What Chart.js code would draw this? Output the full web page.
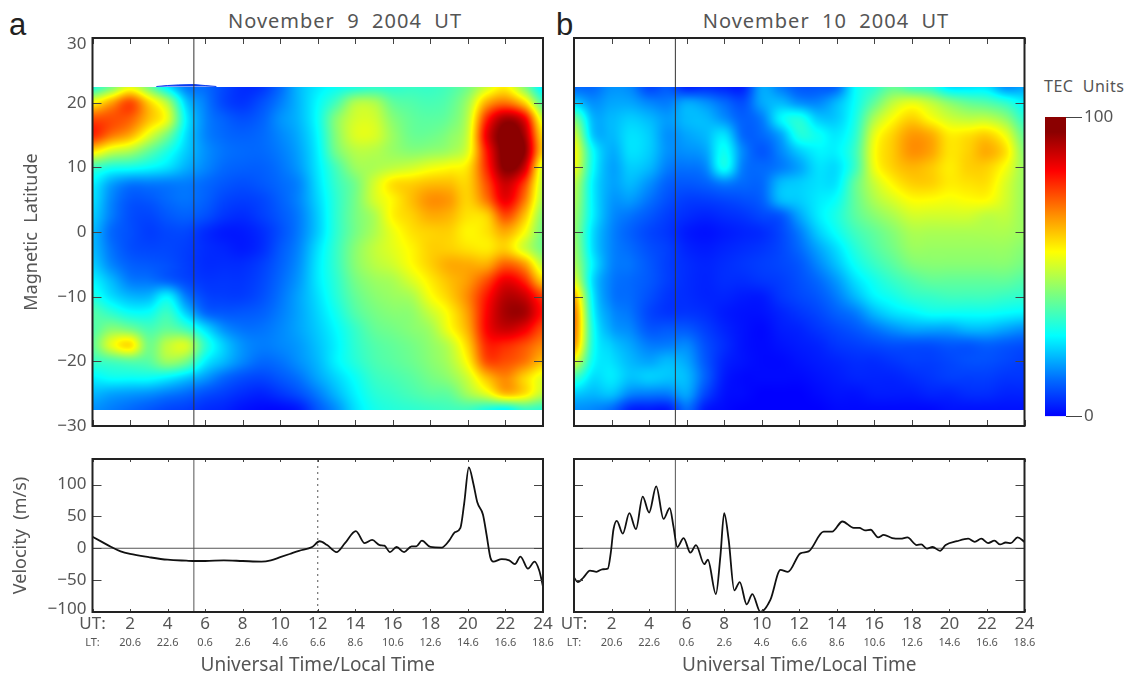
<!DOCTYPE html>
<html>
<head>
<meta charset="utf-8">
<title>TEC and velocity</title>
<script src="https://cdn.jsdelivr.net/npm/chart.js@4"></script>
<style>
  body { margin: 0; background: #fff; width: 1131px; height: 674px; overflow: hidden; font-family: "Noto Sans", sans-serif; }
  canvas { position: absolute; left: 0; top: 0; }
  .lbl { position: absolute; white-space: pre; color: #555; line-height: 1; }
  .title { font-size: 20px; letter-spacing: 1px; transform: translateX(-50%); }
  .tag { font-family: "Liberation Sans", sans-serif; font-size: 31px; color: #222; }
</style>
</head>
<body>
<div class="lbl tag" style="left:9px;top:9px">a</div>
<div class="lbl tag" style="left:556px;top:9px">b</div>
<div class="lbl title" style="left:345px;top:11px">November  9  2004  UT</div>
<div class="lbl title" style="left:826px;top:11px">November  10  2004  UT</div>
<div class="lbl" style="left:1044px;top:78px;font-size:16px;letter-spacing:.5px">TEC  Units</div>
<canvas id="mapA" width="1131" height="674"></canvas>
<canvas id="mapB" width="1131" height="674"></canvas>
<canvas id="velA" width="1131" height="674"></canvas>
<canvas id="velB" width="1131" height="674"></canvas>
<canvas id="scaleBar" width="1131" height="674"></canvas>
<script>
// tick labels
const hourTicks = [0, 2, 4, 6, 8, 10, 12, 14, 16, 18, 20, 22, 24];
const utLabels = ['UT:', '2', '4', '6', '8', '10', '12', '14', '16', '18', '20', '22', '24'];
const ltLabels = ['LT:', '20.6', '22.6', '0.6', '2.6', '4.6', '6.6', '8.6', '10.6', '12.6', '14.6', '16.6', '18.6'];
// the 30 and -100 labels sit a little inside the corners in the original
const latTicks = [-30, -20, -10, 0, 10, 20, 29];
const latLabels = ['\u221230', '\u221220', '\u221210', '0', '10', '20', '30'];
const velTicks = [-96, -50, 0, 50, 100];
const velLabels = ['\u2212100', '\u221250', '0', '50', '100'];
const cutTime = 5.4;
const noonLine = 12;

// grid of the TEC maps, one row per latitude, one column per hour
const gridLats = [22.5, 20, 17.5, 15, 12.5, 10, 7.5, 5, 2.5, 0, -2.5, -5, -7.5, -10, -12.5, -15, -17.5, -20, -22.5, -25, -27.5];
const gridHours = [0, 1, 2, 3, 4, 5, 6, 7, 8, 9, 10, 11, 12, 13, 14, 15, 16, 17, 18, 19, 20, 21, 22, 23, 24];

const tecNov9 = [
  [30, 40, 52, 40, 25, 14, 12, 8, 5, 6, 12, 20, 25, 28, 30, 32, 32, 33, 33, 35, 40, 50, 56, 42, 25],
  [55, 65, 74, 60, 46, 22, 14, 8, 6, 9, 14, 20, 27, 35, 46, 46, 38, 36, 35, 37, 45, 64, 70, 60, 36],
  [74, 74, 72, 62, 52, 26, 15, 11, 9, 11, 16, 20, 28, 42, 50, 50, 42, 38, 37, 39, 48, 78, 92, 84, 50],
  [78, 70, 64, 52, 40, 24, 15, 12, 11, 12, 15, 19, 27, 42, 51, 51, 44, 39, 39, 42, 50, 84, 98, 92, 58],
  [58, 50, 46, 38, 30, 22, 16, 13, 12, 12, 14, 18, 26, 40, 47, 47, 44, 42, 43, 45, 52, 80, 98, 95, 60],
  [34, 30, 29, 27, 24, 19, 15, 12, 11, 11, 13, 17, 25, 35, 44, 46, 48, 50, 53, 55, 58, 78, 96, 88, 50],
  [26, 18, 14, 14, 14, 14, 12, 10, 9, 10, 12, 15, 24, 33, 40, 50, 58, 60, 62, 62, 60, 74, 88, 76, 48],
  [24, 15, 10, 10, 12, 13, 11, 8, 7, 8, 11, 15, 23, 32, 40, 50, 56, 62, 67, 66, 60, 70, 84, 70, 46],
  [22, 14, 9, 8, 10, 11, 9, 6, 5, 7, 10, 14, 22, 32, 40, 46, 56, 60, 64, 63, 58, 60, 74, 62, 42],
  [20, 12, 9, 7, 8, 8, 5, 3, 3, 5, 9, 14, 22, 32, 40, 46, 53, 58, 60, 60, 56, 58, 64, 55, 40],
  [20, 13, 9, 8, 8, 7, 5, 4, 3, 5, 10, 15, 24, 33, 42, 48, 52, 56, 60, 60, 58, 57, 60, 50, 40],
  [22, 15, 11, 10, 9, 7, 5, 5, 5, 7, 11, 16, 25, 33, 42, 47, 50, 55, 60, 64, 64, 64, 72, 66, 48],
  [26, 20, 14, 13, 11, 8, 6, 6, 6, 8, 12, 17, 25, 32, 40, 44, 46, 51, 57, 62, 66, 74, 84, 78, 60],
  [30, 24, 20, 20, 26, 14, 8, 7, 7, 9, 13, 18, 24, 31, 38, 42, 44, 46, 54, 60, 68, 80, 90, 88, 76],
  [36, 32, 28, 28, 33, 22, 12, 10, 10, 11, 14, 18, 23, 29, 36, 40, 42, 43, 49, 56, 66, 82, 92, 92, 80],
  [36, 42, 40, 35, 38, 34, 24, 16, 13, 13, 15, 18, 22, 27, 33, 38, 40, 42, 45, 54, 64, 82, 88, 84, 74],
  [38, 52, 58, 40, 48, 50, 32, 22, 16, 14, 15, 17, 21, 26, 32, 36, 38, 40, 43, 48, 60, 78, 78, 74, 68],
  [33, 35, 37, 37, 44, 40, 26, 20, 15, 12, 13, 16, 20, 26, 31, 35, 37, 39, 42, 46, 56, 74, 74, 70, 62],
  [26, 28, 28, 28, 26, 22, 17, 12, 9, 8, 10, 13, 18, 23, 28, 33, 35, 37, 40, 43, 50, 62, 68, 60, 52],
  [20, 18, 17, 16, 14, 12, 9, 7, 5, 4, 6, 9, 14, 20, 26, 31, 33, 35, 37, 38, 45, 52, 62, 58, 48],
  [16, 14, 12, 10, 8, 7, 5, 4, 2, 1, 1, 3, 10, 16, 24, 29, 31, 32, 33, 34, 34, 30, 27, 33, 32]
];

const tecNov10 = [
  [12, 12, 16, 15, 8, 10, 4, 5, 4, 4, 18, 14, 10, 10, 12, 27, 32, 38, 34, 32, 24, 24, 24, 16, 18],
  [22, 16, 18, 18, 15, 14, 18, 16, 12, 9, 18, 20, 16, 15, 20, 28, 38, 48, 52, 48, 42, 38, 36, 32, 26],
  [40, 20, 20, 22, 20, 17, 20, 20, 16, 11, 14, 26, 30, 22, 22, 30, 46, 55, 60, 55, 50, 48, 48, 43, 32],
  [50, 22, 20, 24, 22, 16, 18, 20, 24, 12, 12, 18, 30, 28, 25, 32, 52, 60, 66, 64, 57, 58, 60, 53, 38],
  [55, 28, 19, 24, 22, 16, 16, 18, 28, 15, 10, 15, 22, 26, 26, 34, 54, 61, 67, 65, 58, 60, 64, 58, 42],
  [54, 28, 18, 22, 20, 14, 13, 15, 28, 14, 12, 14, 18, 24, 24, 34, 53, 60, 63, 61, 57, 60, 60, 54, 44],
  [48, 26, 18, 20, 16, 11, 10, 11, 14, 12, 12, 20, 22, 24, 25, 38, 49, 56, 60, 60, 57, 58, 58, 51, 44],
  [46, 26, 17, 17, 13, 9, 7, 7, 8, 9, 11, 20, 22, 25, 28, 38, 46, 51, 55, 55, 54, 55, 55, 50, 44],
  [44, 26, 16, 13, 10, 7, 5, 4, 5, 6, 8, 10, 18, 25, 30, 37, 42, 46, 50, 50, 50, 50, 48, 48, 44],
  [43, 24, 15, 11, 8, 6, 3, 2, 3, 4, 5, 8, 14, 22, 28, 34, 38, 42, 46, 46, 46, 46, 46, 46, 44],
  [44, 24, 15, 12, 9, 7, 4, 3, 4, 5, 6, 8, 12, 18, 24, 31, 36, 40, 44, 44, 44, 44, 44, 44, 42],
  [46, 26, 15, 13, 10, 7, 5, 4, 5, 6, 7, 8, 10, 15, 21, 28, 33, 37, 41, 42, 42, 42, 42, 42, 40],
  [52, 24, 14, 12, 10, 7, 5, 4, 5, 5, 6, 7, 9, 12, 17, 24, 29, 33, 36, 38, 38, 38, 38, 38, 36],
  [64, 26, 14, 12, 9, 6, 5, 4, 4, 3, 3, 6, 8, 10, 14, 20, 26, 29, 32, 33, 34, 34, 34, 33, 32],
  [70, 28, 16, 13, 8, 6, 6, 5, 3, 2, 2, 4, 6, 8, 11, 14, 20, 24, 26, 28, 28, 28, 28, 27, 26],
  [70, 30, 18, 15, 10, 10, 10, 7, 4, 2, 1, 3, 4, 6, 8, 10, 13, 16, 18, 18, 18, 20, 20, 18, 16],
  [66, 30, 22, 18, 14, 14, 15, 9, 5, 2, 1, 2, 3, 4, 6, 7, 8, 9, 9, 9, 10, 10, 11, 10, 9],
  [52, 28, 24, 20, 18, 20, 18, 10, 4, 2, 1, 1, 2, 3, 4, 5, 5, 6, 7, 7, 8, 9, 9, 8, 7],
  [34, 24, 25, 21, 22, 21, 20, 11, 3, 1, 1, 1, 1, 2, 3, 4, 4, 4, 5, 6, 7, 7, 7, 6, 6],
  [22, 20, 21, 15, 14, 14, 18, 8, 2, 1, 0, 0, 0, 1, 2, 2, 3, 3, 3, 4, 4, 5, 5, 4, 4],
  [16, 15, 12, 4, 3, 3, 12, 3, 1, 0, 0, 0, 0, 0, 1, 1, 1, 1, 1, 1, 2, 2, 2, 2, 2]
];

// small blue lip above the map top on Nov 9
const lipHours = [3.4, 4, 4.6, 5.4, 6, 6.6];
const lipLats = [22.5, 22.65, 22.75, 22.8, 22.65, 22.5];

// vertical drift
const velHoursA = [0, 0.5, 1, 1.5, 2, 3, 4, 5, 5.5, 6, 7, 8, 9, 9.5, 10, 10.5, 11, 11.7, 12.1, 12.5, 13, 13.45, 14.03, 14.5, 14.9, 15.3, 15.55, 15.85, 16.2, 16.6, 17, 17.25, 17.55, 18, 18.6, 19, 19.3, 19.6, 19.8, 20.05, 20.3, 20.5, 20.8, 21, 21.2, 21.35, 21.8, 22.2, 22.5, 22.8, 23.2, 23.55, 23.8, 24];
const velA = [18, 10, 2, -5, -9, -14, -18, -19.5, -20, -20, -19, -20, -21, -19, -14, -9, -4, 2, 11, 5, -6, 8, 27, 8, 13, 5, 4, -6, 2, -6, 3, 3, 12, 2, 1, 12, 25, 32, 70, 127, 100, 72, 53, 20, -15, -21, -17, -19, -25, -13, -32, -21, -35, -60];
const velHoursB = [0, 0.2, 0.5, 0.85, 1.2, 1.5, 1.8, 1.96, 2.1, 2.28, 2.6, 2.95, 3.3, 3.66, 4, 4.38, 4.77, 5.1, 5.3, 5.5, 5.84, 6.2, 6.5, 6.94, 7.13, 7.56, 7.8, 8, 8.24, 8.54, 8.83, 9.2, 9.5, 9.93, 10.46, 11, 11.4, 12.06, 12.5, 13.3, 13.75, 14.3, 14.9, 15.2, 15.5, 15.8, 16.2, 16.5, 16.95, 17.4, 17.76, 18.26, 18.5, 18.8, 19.1, 19.5, 19.8, 20.4, 21, 21.35, 21.7, 22.06, 22.4, 22.7, 23, 23.27, 23.63, 24];
const velB = [-46, -53, -46, -35, -37, -33, -32, -7, 29, 43, 23, 55, 30, 81, 56, 97, 46, 63, 34, 2, 16, -7, 5, -25, -18, -72, -12, 55, 13, -66, -53, -88, -72, -100, -81, -34, -37, -8, -5, 26, 26, 42, 32, 32, 28, 29, 17, 21, 16, 15, 17, 5, 6, -0.5, 2, -4, 5, 11, 15, 10, 15, 8, 12, 6, 9, 8, 17, 10];

// colour table of the bar
const colorStops = [0, 0.12, 0.27, 0.41, 0.55, 0.67, 0.82, 0.95, 1];
const colorsR = [0, 0, 0, 125, 255, 255, 255, 139, 139];
const colorsG = [0, 105, 255, 255, 255, 145, 0, 0, 0];
const colorsB = [255, 255, 255, 125, 0, 0, 0, 0, 0];

const fontName = '"Noto Sans", sans-serif';
const textColor = '#555';
const frameColor = '#222';

function tecColor(v) {
    const t = Math.min(Math.max(v / 100, 0), 1);
    let i = 0;
    while (i < colorStops.length - 2 && t > colorStops[i + 1]) i++;
    const f = (t - colorStops[i]) / (colorStops[i + 1] - colorStops[i]);
    return [
        colorsR[i] + (colorsR[i + 1] - colorsR[i]) * f,
        colorsG[i] + (colorsG[i + 1] - colorsG[i]) * f,
        colorsB[i] + (colorsB[i + 1] - colorsB[i]) * f
    ];
}

function cubic(a, b, c, d, f) {
    return b + 0.5 * f * (c - a + f * (2 * a - 5 * b + 4 * c - d + f * (3 * (b - c) + d - a)));
}

// smooth reading of the grid at screen pixels, as the original map shading does
function sampleGrid(grid, hour, lat) {
    const cols = gridHours.length, rows = gridLats.length;
    const cx = hour - gridHours[0];
    const cy = (gridLats[0] - lat) / (gridLats[0] - gridLats[1]);
    const c0 = Math.min(Math.floor(cx), cols - 2), r0 = Math.min(Math.floor(cy), rows - 2);
    const col = n => Math.min(Math.max(n, 0), cols - 1);
    const row = n => Math.min(Math.max(n, 0), rows - 1);
    const vals = [];
    for (let r = -1; r <= 2; r++) {
        const g = grid[row(r0 + r)];
        vals.push(cubic(g[col(c0 - 1)], g[col(c0)], g[col(c0 + 1)], g[col(c0 + 2)], cx - c0));
    }
    return cubic(vals[0], vals[1], vals[2], vals[3], cy - r0);
}

function heatPlugin(grid) {
    return {
        id: 'heat',
        beforeDatasetsDraw(chart) {
            const xs = chart.scales.x, ys = chart.scales.y;
            const left = Math.round(xs.getPixelForValue(0)), right = Math.round(xs.getPixelForValue(24));
            const top = Math.round(ys.getPixelForValue(gridLats[0]));
            const bottom = Math.round(ys.getPixelForValue(gridLats[gridLats.length - 1]));
            const w = right - left, h = bottom - top;
            const off = document.createElement('canvas');
            off.width = w; off.height = h;
            const octx = off.getContext('2d');
            const img = octx.createImageData(w, h);
            for (let py = 0; py < h; py++) {
                const lat = ys.getValueForPixel(top + py + 0.5);
                for (let px = 0; px < w; px++) {
                    const c = tecColor(sampleGrid(grid, xs.getValueForPixel(left + px + 0.5), lat));
                    const k = (py * w + px) * 4;
                    img.data[k] = c[0]; img.data[k + 1] = c[1]; img.data[k + 2] = c[2]; img.data[k + 3] = 255;
                }
            }
            octx.putImageData(img, 0, 0);
            chart.ctx.drawImage(off, left, top);
        }
    };
}

// box round the plot, ticks pointing inward
function framePlugin(xLen, yLen) {
    return {
        id: 'frame',
        afterDraw(chart) {
            const { ctx, chartArea: a, scales } = chart;
            ctx.save();
            ctx.strokeStyle = '#444';
            ctx.lineWidth = 1;
            ctx.beginPath();
            scales.x.ticks.forEach(t => {
                const x = Math.round(scales.x.getPixelForValue(t.value)) + 0.5;
                ctx.moveTo(x, a.top); ctx.lineTo(x, a.top + xLen);
                ctx.moveTo(x, a.bottom); ctx.lineTo(x, a.bottom - xLen);
            });
            scales.y.ticks.forEach(t => {
                const y = Math.round(scales.y.getPixelForValue(t.value)) + 0.5;
                if (y - a.top < 12 || a.bottom - y < 12) return;
                ctx.moveTo(a.left, y); ctx.lineTo(a.left + yLen, y);
                ctx.moveTo(a.right, y); ctx.lineTo(a.right - yLen, y);
            });
            ctx.stroke();
            ctx.strokeStyle = frameColor;
            ctx.lineWidth = 2;
            ctx.strokeRect(a.left, a.top, a.right - a.left, a.bottom - a.top);
            ctx.restore();
        }
    };
}

function toPoints(xs, ys) {
    return xs.map((x, i) => ({ x: x, y: ys[i] }));
}

function vLine(x, lo, hi, color, dash) {
    return { data: [{ x: x, y: lo }, { x: x, y: hi }], borderColor: color, borderWidth: 1, borderDash: dash || [], pointRadius: 0 };
}

function hourScale(tickLabels, tickFont, pad, height, title) {
    return {
        type: 'linear', min: 0, max: 24,
        border: { display: false },
        grid: { display: false, drawTicks: false },
        afterBuildTicks: s => { s.ticks = hourTicks.map(v => ({ value: v })); },
        afterFit: s => { s.height = height; },
        ticks: {
            display: !!tickLabels, autoSkip: false, maxRotation: 0, padding: pad, color: textColor,
            font: { family: fontName, size: tickFont },
            callback: v => tickLabels ? tickLabels[hourTicks.indexOf(v)] : ''
        },
        title: title ? {
            display: true, text: title, color: textColor, padding: { top: 0, bottom: -1 },
            font: { family: fontName, size: 19, lineHeight: 1 }
        } : { display: false }
    };
}

function valueScale(min, max, tickVals, tickLabels, width, titleText, titlePad) {
    return {
        type: 'linear', min: min, max: max,
        border: { display: false },
        grid: { display: false, drawTicks: false },
        afterBuildTicks: s => { s.ticks = tickVals.map(v => ({ value: v })); },
        afterFit: s => { s.width = width; },
        ticks: {
            display: !!tickLabels, padding: 6, color: textColor,
            font: { family: fontName, size: 17 },
            callback: v => tickLabels ? tickLabels[tickVals.indexOf(v)] : ''
        },
        title: titleText ? {
            display: true, text: titleText, color: textColor, padding: { top: titlePad, bottom: 0 },
            font: { family: fontName, size: 18, lineHeight: 1.2 }
        } : { display: false }
    };
}

const baseOptions = { responsive: false, animation: false, events: [], plugins: { legend: { display: false }, tooltip: { enabled: false } } };

function mapChart(id, grid, left, right, extra, showLabels) {
    const datasets = [vLine(cutTime, -30, 30, '#333')].concat(extra);
    return new Chart(document.getElementById(id), {
        type: 'line',
        data: { datasets: datasets },
        plugins: [heatPlugin(grid), framePlugin(6, 9)],
        options: Object.assign({}, baseOptions, {
            layout: { autoPadding: false, padding: { left: showLabels ? 0 : left, right: 1131 - right, top: 38, bottom: 248 } },
            scales: {
                x: hourScale(null, 17, 0, 0),
                y: showLabels
                    ? valueScale(-30, 30, latTicks, latLabels, left, 'Magnetic  Latitude', 21)
                    : valueScale(-30, 30, latTicks, null, 0)
            }
        })
    });
}

function velChart(id, hours, vals, left, right, extra, showLabels) {
    const datasets = [
        { data: toPoints(hours, vals), borderColor: '#111', borderWidth: 1.8, pointRadius: 0, cubicInterpolationMode: 'monotone' },
        { data: [{ x: 0, y: 0 }, { x: 24, y: 0 }], borderColor: '#555', borderWidth: 1, pointRadius: 0 },
        vLine(cutTime, -100, 140, '#555')
    ].concat(extra);
    return new Chart(document.getElementById(id), {
        type: 'line',
        data: { datasets: datasets },
        plugins: [framePlugin(3, 9)],
        options: Object.assign({}, baseOptions, {
            layout: { autoPadding: false, padding: { left: showLabels ? 0 : left, right: 1131 - right, top: 459, bottom: 0 } },
            scales: {
                x: hourScale(utLabels, 17, 2, 22),
                x2: Object.assign(hourScale(ltLabels, 11, 2, 40, 'Universal Time/Local Time'), { position: 'bottom', weight: 1 }),
                y: showLabels
                    ? valueScale(-100, 140, velTicks, velLabels, left, 'Velocity  (m/s)', 10)
                    : valueScale(-100, 140, velTicks, null, 0)
            }
        })
    });
}

mapChart('mapA', tecNov9, 92.5, 543, [
    { data: toPoints(lipHours, lipLats), borderColor: '#0a3cf0', backgroundColor: '#0a3cf0', borderWidth: 1, pointRadius: 0, fill: { value: 22.5 } }
], true);
mapChart('mapB', tecNov10, 574, 1024.5, [], false);
velChart('velA', velHoursA, velA, 92.5, 543, [vLine(noonLine, -100, 140, '#555', [2, 4])], true);
velChart('velB', velHoursB, velB, 574, 1024.5, [], false);

new Chart(document.getElementById('scaleBar'), {
    type: 'bar',
    data: {
        labels: [''],
        datasets: [{
            data: [[0, 100]],
            barPercentage: 1,
            categoryPercentage: 1,
            backgroundColor: ctx => {
                const ch = ctx.chart;
                if (!ch.chartArea) return '#00f';
                const g = ch.ctx.createLinearGradient(0, ch.scales.y.getPixelForValue(0), 0, ch.scales.y.getPixelForValue(100));
                colorStops.forEach((s, i) => g.addColorStop(s, `rgb(${colorsR[i]},${colorsG[i]},${colorsB[i]})`));
                return g;
            }
        }]
    },
    options: Object.assign({}, baseOptions, {
        layout: { autoPadding: false, padding: { left: 1045, right: 0, top: 117, bottom: 257.5 } },
        scales: {
            x: { display: false },
            y: {
                position: 'right', min: 0, max: 100,
                border: { display: false },
                afterBuildTicks: s => { s.ticks = [{ value: 0 }, { value: 100 }]; },
                afterFit: s => { s.width = 65; },
                grid: { drawOnChartArea: false, drawTicks: true, tickLength: 16, color: '#444' },
                ticks: { padding: 2, color: textColor, font: { family: fontName, size: 17 } }
            }
        }
    })
});
</script>
</body>
</html>
